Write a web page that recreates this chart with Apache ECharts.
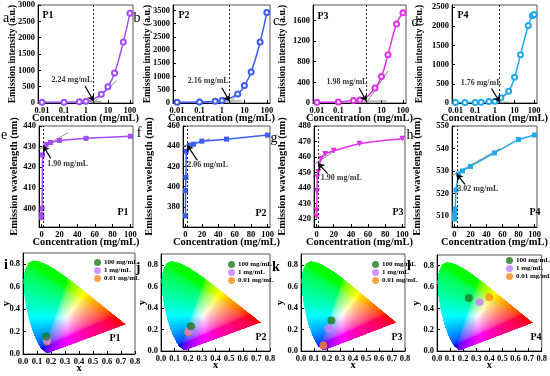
<!DOCTYPE html>
<html>
<head>
<meta charset="utf-8">
<script src="https://cdn.jsdelivr.net/npm/echarts@6/dist/echarts.min.js"></script>
<style>
html, body { margin: 0; padding: 0; background: #fff; }
#main { width: 550px; height: 376px; }
</style>
</head>
<body>
<div id="main"></div>
<script>
// ---------- data ----------
var concStd = [0.01, 0.1, 0.5, 1, 5, 10, 20, 50, 100];           // P1-P3 concentrations
var concP4 = [0.01, 0.03, 0.1, 0.2, 0.5, 1, 2, 5, 10, 20, 50, 80, 100];
var concP3W = [0.01, 0.1, 0.5, 1, 2, 5, 10, 20, 50, 100];

// emission intensity (a.u.)
var intP1 = [20, 25, 35, 50, 270, 500, 920, 1870, 2750];
var intP2 = [25, 35, 65, 95, 340, 660, 1170, 2300, 3420];
var intP3 = [15, 20, 50, 60, 290, 515, 935, 1530, 1750];
var intP4 = [10, 10, 15, 20, 36, 45, 134, 305, 672, 1254, 2016, 2270, 2300];

// emission wavelength (nm)
var wlP1 = [395.5, 397, 400, 426, 431, 432, 433, 434, 435];
var wlP2 = [371, 396, 409, 435, 441, 442, 445, 447, 451];
var wlP3 = [421.8, 425.6, 438, 447, 450.4, 458.7, 462, 464, 468.6, 471.8];
var wlP4 = [508.5, 509, 509.5, 510, 511, 513, 521.5, 528.5, 530, 532, 538, 544, 546];

// CAC thresholds (mg/mL)
var cacInt = [2.24, 2.16, 1.98, 1.76];
var cacWl = [1.90, 2.06, 1.90, 3.02];

// fitted tangent lines, arrows, label anchors (intensity panels)
var flatInt = [[[0.8, 30], [5, 45]], [[0.77, 70], [7.3, 80]], [[1.54, 34], [17.6, 40]], [[0.67, 18], [5.3, 22]]];
var slopeInt = [[[1.84, -43], [24.9, 680]], [[1.84, -70], [12.4, 686]], [[1.66, -47], [20.8, 630]], [[0.95, -27], [5.3, 331]]];
var arrowInt = [[[0.91, 518], [2.24, 60]], [[0.98, 576], [2.16, 70]], [[0.92, 290], [1.98, 40]], [[0.67, 376], [1.76, 25]]];
var labelInt = [[0.23, 700], [0.245, 850], [0.25, 407], [0.2, 529]];

// wavelength panels
var tanWl = [[[-5.7, 428], [29.4, 436.7]], [[-3, 440], [30, 447]], [[-7.2, 453.8], [20.8, 463.9]], [[-5, 527.5], [57, 540]]];
var arrowWl = [[[10.3, 424.3], [1.9, 430.3]], [[14.5, 426], [2.06, 441]], [[12.8, 449.3], [1.9, 456]], [[13.2, 524], [3.02, 528.5]]];
var labelWl = [[29.4, 421.5], [27, 421], [28.8, 446.6], [29.2, 521.8]];

// CIE coordinates: 100, 1, 0.01 mg/mL
var cieNames = ['100 mg/mL', '1 mg/mL', '0.01 mg/mL'];
var cieP1 = [[0.166, 0.155], [0.171, 0.125], [0.171, 0.113]];
var cieP2 = [[0.220, 0.230], [0.208, 0.193], [0.200, 0.178]];
var cieP3 = [[0.234, 0.282], [0.209, 0.208], [0.171, 0.050]];
var cieP4 = [[0.243, 0.498], [0.324, 0.458], [0.399, 0.505]];

// CIE 1931 spectral locus (x, y)
var locus = [
  [0.1741, 0.0050], [0.1733, 0.0048], [0.1714, 0.0051], [0.1689, 0.0069], [0.1644, 0.0109],
  [0.1566, 0.0177], [0.1440, 0.0297], [0.1355, 0.0399], [0.1241, 0.0578], [0.1096, 0.0868],
  [0.0913, 0.1327], [0.0687, 0.2007], [0.0454, 0.2950], [0.0235, 0.4127], [0.0082, 0.5384],
  [0.0039, 0.6548], [0.0139, 0.7502], [0.0389, 0.8120], [0.0743, 0.8338], [0.1142, 0.8262],
  [0.1547, 0.8059], [0.1929, 0.7816], [0.2296, 0.7543], [0.2658, 0.7243], [0.3016, 0.6923],
  [0.3373, 0.6589], [0.3731, 0.6245], [0.4087, 0.5896], [0.4441, 0.5547], [0.4788, 0.5202],
  [0.5125, 0.4866], [0.5448, 0.4544], [0.5752, 0.4242], [0.6029, 0.3965], [0.6270, 0.3725],
  [0.6658, 0.3340], [0.6915, 0.3083], [0.7079, 0.2920], [0.7190, 0.2809], [0.7300, 0.2700],
  [0.7347, 0.2653]
];

// ---------- styles ----------
var FONT = 'Liberation Serif';
var colors = ['#a34cf5', '#3d5cf5', '#e033e8', '#22a8ea'];
var cieColors = ['#1e7b1e', '#c77dff', '#ff8c1a'];

function zip(a, b) {
  return a.map(function (v, i) { return [v, b[i]]; });
}

function axis(type, gi, opt) {
  var o = {
    type: type, gridIndex: gi,
    nameLocation: 'middle',
    nameMoveOverlap: false,
    nameTextStyle: { fontFamily: FONT, fontWeight: 'bold', fontSize: 10.5, color: '#000' },
    axisLine: { show: true, onZero: false, lineStyle: { color: '#000', width: 1 } },
    axisTick: { show: true, inside: true, length: 3, lineStyle: { color: '#000' } },
    axisLabel: { fontFamily: FONT, fontWeight: 'bold', fontSize: 8.5, color: '#000', margin: 3,
      formatter: function (v) { return String(v); } },
    splitLine: { show: false }
  };
  for (var k in opt) {
    if (k === 'axisLabel' || k === 'nameTextStyle') {
      for (var j in opt[k]) o[k][j] = opt[k][j];
    } else {
      o[k] = opt[k];
    }
  }
  return o;
}

// CIE gamut picture, drawn once in chromaticity space 0..0.8 x 0..0.9
function inside(px, py) {
  var c = false;
  for (var i = 0, j = locus.length - 1; i < locus.length; j = i++) {
    var xi = locus[i][0], yi = locus[i][1], xj = locus[j][0], yj = locus[j][1];
    if (((yi > py) != (yj > py)) && (px < (xj - xi) * (py - yi) / (yj - yi) + xi)) c = !c;
  }
  return c;
}
function gamma(v) {
  return v <= 0.0031308 ? 12.92 * v : 1.055 * Math.pow(v, 1 / 2.4) - 0.055;
}
var cieCanvas = document.createElement('canvas');
(function () {
  var W = 240, H = 270;
  cieCanvas.width = W; cieCanvas.height = H;
  var ctx = cieCanvas.getContext('2d');
  var img = ctx.createImageData(W, H);
  for (var j = 0; j < H; j++) {
    for (var i = 0; i < W; i++) {
      var x = (i + 0.5) / W * 0.8, y = 0.9 - (j + 0.5) / H * 0.9;
      var p = (j * W + i) * 4;
      if (!inside(x, y)) { img.data[p + 3] = 0; continue; }
      var X = x / y, Y = 1, Z = (1 - x - y) / y;
      var r = 3.2406 * X - 1.5372 * Y - 0.4986 * Z;
      var g = -0.9689 * X + 1.8758 * Y + 0.0415 * Z;
      var b = 0.0557 * X - 0.2040 * Y + 1.0570 * Z;
      r = Math.max(r, 0); g = Math.max(g, 0); b = Math.max(b, 0);
      var m = Math.max(r, g, b);
      img.data[p] = Math.round(255 * gamma(r / m));
      img.data[p + 1] = Math.round(255 * gamma(g / m));
      img.data[p + 2] = Math.round(255 * gamma(b / m));
      img.data[p + 3] = 255;
    }
  }
  ctx.putImageData(img, 0, 0);
})();

// ---------- layout ----------
var grids = [
  { left: 38, top: 5, width: 95, height: 98 },
  { left: 173, top: 5, width: 97, height: 98 },
  { left: 313, top: 5, width: 93, height: 98 },
  { left: 452, top: 5, width: 93, height: 98 },
  { left: 39, top: 126, width: 94, height: 101 },
  { left: 183, top: 126, width: 87, height: 101 },
  { left: 314, top: 126, width: 91, height: 101 },
  { left: 452, top: 126, width: 93, height: 101 },
  { left: 23, top: 253, width: 112, height: 101 },
  { left: 161, top: 254, width: 109, height: 97 },
  { left: 301, top: 254, width: 104, height: 97 },
  { left: 437, top: 255, width: 108, height: 96 }
];
grids.forEach(function (g) { g.show = true; g.borderColor = '#555'; g.borderWidth = 1; });

var xAxes = [], yAxes = [], series = [];

// row 1: emission intensity vs log concentration
var intData = [intP1, intP2, intP3, intP4];
var intConc = [concStd, concStd, concStd, concP4];
var intMax = [3000, 3700, 1900, 2550];
var intStep = [500, 500, 400, 500];
var intGap = [20, 20, 25, 27];
// row 2: wavelength
var wlData = [wlP1, wlP2, wlP3, wlP4];
var wlConc = [concStd, concStd, concP3W, concP4];
var wlMin = [391, 360, 415, 505];
var wlMax = [440, 460, 480, 550];
var wlGap = [19, 28, 26, 29];
var wlSymbol = ['rect', 'rect', 'triangle', 'rect'];

function annotations(thr, arrow) {
  return {
    silent: true, animation: false,
    symbol: ['none', 'none'],
    label: { show: false },
    lineStyle: { color: '#222', type: [2, 2], width: 1 },
    data: [
      { xAxis: thr },
      [
        { coord: arrow[0], symbol: 'none', lineStyle: { type: 'solid', color: '#000', width: 1.2 } },
        { coord: arrow[1], symbol: 'arrow', symbolSize: 6, lineStyle: { type: 'solid', color: '#000', width: 1.2 } }
      ]
    ]
  };
}

function textSeries(gi, pos, txt) {
  return {
    type: 'scatter', xAxisIndex: gi, yAxisIndex: gi, silent: true,
    data: [pos], symbolSize: 1, itemStyle: { color: 'rgba(0,0,0,0)' }, z: 5,
    label: { show: true, position: 'inside', formatter: txt,
      fontFamily: FONT, fontWeight: 'bold', fontSize: 8, color: '#000' }
  };
}

function grayLine(gi, pts) {
  return {
    type: 'line', xAxisIndex: gi, yAxisIndex: gi, silent: true, data: pts,
    symbol: 'none', lineStyle: { color: '#8a8a8a', width: 1 }, z: 1
  };
}

for (var i = 0; i < 4; i++) {
  xAxes.push(axis('log', i, {
    min: 0.0066, max: 138, logBase: 10,
    name: 'Concentration (mg/mL)', nameGap: 10,
    axisLabel: { showMinLabel: false, showMaxLabel: false }
  }));
  yAxes.push(axis('value', i, {
    min: 0, max: intMax[i], interval: intStep[i],
    name: 'Emission intensity (a.u.)', nameGap: intGap[i],
    nameTextStyle: { fontSize: 9.6 },
    axisLabel: { showMaxLabel: i === 0 }
  }));
  series.push({
    type: 'line', xAxisIndex: i, yAxisIndex: i,
    data: zip(intConc[i], intData[i]), smooth: true,
    symbol: 'emptyCircle', symbolSize: 5,
    lineStyle: { color: colors[i], width: 1.5 },
    itemStyle: { color: colors[i], borderWidth: 1.5 },
    markLine: annotations(cacInt[i], arrowInt[i])
  });
  series.push(grayLine(i, flatInt[i]));
  series.push(grayLine(i, slopeInt[i]));
  series.push(textSeries(i, labelInt[i], cacInt[i].toFixed(2) + ' mg/mL'));
}

for (var i = 0; i < 4; i++) {
  var gi = i + 4;
  xAxes.push(axis('value', gi, {
    min: -3, max: 103,
    name: 'Concentration (mg/mL)', nameGap: 10,
    axisLabel: { showMinLabel: false, showMaxLabel: false }
  }));
  yAxes.push(axis('value', gi, {
    min: wlMin[i], max: wlMax[i],
    name: 'Emission wavelength (nm)', nameGap: wlGap[i],
    axisLabel: { showMinLabel: false }
  }));
  series.push({
    type: 'line', xAxisIndex: gi, yAxisIndex: gi,
    data: zip(wlConc[i], wlData[i]), smooth: i === 2 ? 0.3 : false,
    symbol: wlSymbol[i], symbolSize: i === 2 ? 6 : 5, symbolRotate: i === 2 ? 180 : 0,
    lineStyle: { color: colors[i], width: 1.5 },
    itemStyle: { color: colors[i] },
    markLine: annotations(cacWl[i], arrowWl[i])
  });
  series.push(grayLine(gi, tanWl[i]));
  series.push(textSeries(gi, labelWl[i], cacWl[i].toFixed(2) + ' mg/mL'));
}

// row 3: CIE diagrams
var ciePts = [cieP1, cieP2, cieP3, cieP4];
var yNameGap = [11, 13, 15, 15];
var legends = [];
var legendPos = [[94, 259], [228, 261], [372, 261], [506, 257]];
for (var i = 0; i < 4; i++) {
  var gi = i + 8;
  xAxes.push(axis('value', gi, {
    min: 0, max: 0.8, interval: 0.1, name: 'x', nameGap: 9,
    axisLabel: { formatter: function (v) { return v.toFixed(1); } }
  }));
  yAxes.push(axis('value', gi, {
    min: 0, max: 0.9, interval: 0.2, name: 'y', nameGap: yNameGap[i],
    axisLabel: { showMaxLabel: false, formatter: function (v) { return v.toFixed(1); } }
  }));
  series.push({
    type: 'custom', xAxisIndex: gi, yAxisIndex: gi, silent: true, z: 1,
    data: [[0, 0]],
    renderItem: function (params, api) {
      var p0 = api.coord([0, 0.9]);
      var p1 = api.coord([0.8, 0]);
      return {
        type: 'image',
        style: { image: cieCanvas, x: p0[0], y: p0[1], width: p1[0] - p0[0], height: p1[1] - p0[1] }
      };
    }
  });
  for (var k = 2; k >= 0; k--) {
    series.push({
      type: 'scatter', name: cieNames[k], xAxisIndex: gi, yAxisIndex: gi, z: 3,
      data: [ciePts[i][k]], symbolSize: 8,
      itemStyle: { color: cieColors[k] }
    });
  }
  legends.push({
    left: legendPos[i][0], top: legendPos[i][1], orient: 'vertical',
    data: cieNames, icon: 'circle', itemWidth: 7, itemHeight: 7, itemGap: 1, padding: 0,
    selectedMode: false,
    textStyle: { fontFamily: FONT, fontWeight: 'bold', fontSize: 7, color: '#000', padding: [0, 0, 0, -2] }
  });
}

// panel letters and sample names
function txt(s, x, y, size, bold) {
  return {
    type: 'text', x: x, y: y, silent: true, z: 10,
    style: {
      text: s, fill: '#000',
      font: (bold ? 'bold ' : '') + size + 'px "' + FONT + '"',
      textAlign: 'center', textVerticalAlign: 'middle',
      align: 'center', verticalAlign: 'middle'
    }
  };
}
var graphics = [];
var letters = ['a', 'b', 'c', 'd', 'e', 'f', 'g', 'h', 'i', 'j', 'k', 'l'];
var letterPos = [[6, 18], [137, 18], [276, 21], [415, 22], [4, 135], [139, 133], [274, 138], [410, 135],
                 [6, 265], [138, 268], [276, 267], [409, 266]];
letters.forEach(function (l, i) {
  graphics.push(txt(l, letterPos[i][0], letterPos[i][1], 14, i >= 8));
});
var pPos = [[48, 15], [184, 15], [323, 16], [463, 15], [123, 212], [261, 213], [398, 212], [535, 212],
            [115, 338], [261, 337], [397, 337], [536, 337]];
pPos.forEach(function (p, i) {
  graphics.push(txt('P' + (i % 4 + 1), p[0], p[1], 10, true));
});

var chart = echarts.init(document.getElementById('main'));
chart.setOption({
  animation: false,
  backgroundColor: '#fff',
  grid: grids,
  xAxis: xAxes,
  yAxis: yAxes,
  legend: legends,
  graphic: graphics,
  series: series
});
</script>
</body>
</html>
